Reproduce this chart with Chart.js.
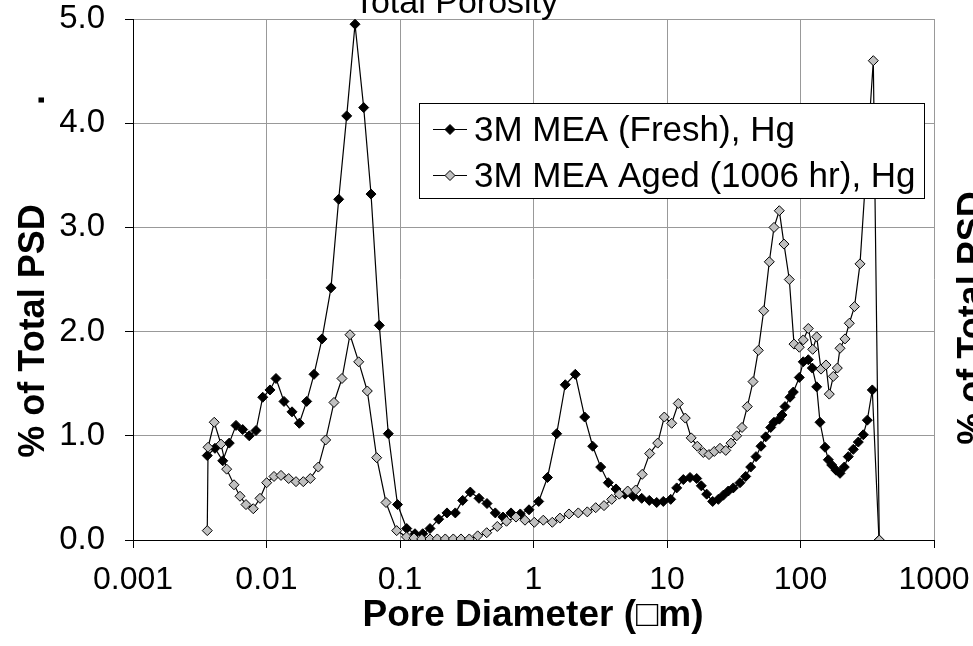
<!DOCTYPE html>
<html><head><meta charset="utf-8">
<script src="https://cdn.jsdelivr.net/npm/chart.js@4"></script>
<style>html,body{margin:0;padding:0;background:#fff;overflow:hidden}canvas{display:block}</style>
</head><body>
<canvas id="c" width="973" height="646"></canvas>
<script>
const chartTitle = 'Total Porosity';
const xTitle = 'Pore Diameter (\u25A1m)';
const yTitle = '% of Total PSD';
const seriesNames = ['3M MEA (Fresh), Hg', '3M MEA Aged (1006 hr), Hg'];
const xTickValues = [0.001, 0.01, 0.1, 1, 10, 100, 1000];
const xTickLabels = ['0.001', '0.01', '0.1', '1', '10', '100', '1000'];
const yTickValues = [0, 1, 2, 3, 4, 5];
const yTickLabels = ['0.0', '1.0', '2.0', '3.0', '4.0', '5.0'];

const freshDiameter = [0.00360,0.00411,0.00470,0.00526,0.00591,0.00663,0.00743,0.00834,0.00937,0.01062,0.01178,0.01352,0.01553,0.01761,0.0200,0.02269,0.02605,0.03041,0.03474,0.03989,0.04603,0.05346,0.06065,0.0700,0.08175,0.0958,0.1123,0.1295,0.1479,0.1678,0.1949,0.2249,0.2596,0.2948,0.3362,0.3907,0.4484,0.5175,0.5908,0.6785,0.7963,0.9254,1.094,1.273,1.492,1.730,2.056,2.418,2.776,3.187,3.634,4.150,4.847,5.593,6.464,7.369,8.372,9.382,10.66,11.82,13.25,14.87,16.69,18.07,19.83,21.99,24.23,26.41,28.79,31.38,35.23,38.86,42.36,46.42,50.59,54.88,59.82,63.32,69.37,72.66,76.53,83.43,88.34,97.95,104.9,114.4,122.6,132.2,140.0,152.6,161.6,171.3,184.5,197.7,212.8,228.0,248.6,271.0,295.4,316.5,345.0,387.3];
const freshPct = [0.81,0.88,0.76,0.93,1.10,1.06,1.00,1.05,1.37,1.44,1.55,1.33,1.23,1.12,1.33,1.59,1.93,2.42,3.27,4.07,4.95,4.15,3.32,2.06,1.02,0.34,0.11,0.06,0.06,0.11,0.20,0.26,0.26,0.38,0.46,0.40,0.35,0.26,0.22,0.26,0.25,0.29,0.37,0.60,1.02,1.49,1.59,1.18,0.90,0.70,0.55,0.49,0.44,0.42,0.40,0.38,0.36,0.37,0.39,0.50,0.58,0.60,0.59,0.52,0.44,0.37,0.39,0.43,0.47,0.50,0.55,0.61,0.70,0.80,0.90,0.99,1.08,1.13,1.16,1.20,1.28,1.37,1.42,1.56,1.71,1.73,1.65,1.47,1.13,0.89,0.77,0.72,0.67,0.64,0.70,0.80,0.87,0.94,1.01,1.15,1.44,0.00];

const agedDiameter = [0.00360,0.00365,0.00406,0.00456,0.00503,0.00571,0.00633,0.00702,0.00796,0.00894,0.01003,0.01138,0.01284,0.01466,0.01663,0.01886,0.02129,0.02443,0.02775,0.03202,0.03676,0.04221,0.04904,0.05689,0.06691,0.07855,0.09447,0.1118,0.1273,0.1454,0.1678,0.1903,0.2184,0.2508,0.2863,0.3304,0.3819,0.4461,0.5355,0.6278,0.7395,0.8636,1.014,1.184,1.383,1.579,1.845,2.166,2.529,2.923,3.374,3.853,4.392,5.077,5.829,6.52,7.42,8.52,9.545,10.84,12.15,13.71,15.18,16.87,18.71,20.64,22.61,24.95,27.56,30.16,33.27,36.46,39.95,44.09,48.30,53.01,58.39,63.32,69.37,75.22,82.44,89.40,97.95,104.9,114.4,123.4,132.2,142.4,155.2,164.3,176.1,188.7,197.7,215.4,232.1,253.8,279.1,351.0,389.3];
const agedPct = [0.09,0.89,1.13,0.92,0.68,0.53,0.42,0.34,0.30,0.40,0.55,0.61,0.62,0.59,0.56,0.56,0.59,0.70,0.96,1.32,1.55,1.97,1.71,1.43,0.79,0.36,0.09,0.03,0.02,0.01,0.01,0.01,0.01,0.01,0.01,0.01,0.04,0.07,0.13,0.18,0.22,0.19,0.17,0.19,0.17,0.21,0.25,0.26,0.27,0.31,0.33,0.39,0.44,0.47,0.48,0.63,0.83,0.93,1.18,1.12,1.31,1.17,0.98,0.90,0.84,0.82,0.85,0.88,0.86,0.93,1.00,1.08,1.28,1.52,1.82,2.20,2.67,3.00,3.16,2.84,2.50,1.88,1.85,1.92,2.03,1.83,1.95,1.64,1.68,1.40,1.57,1.65,1.84,1.93,2.08,2.24,2.65,4.60,0.00];

const FONT = '"Liberation Sans", Arial, Helvetica, sans-serif';
const seriesFill = ['#000000', '#c0c0c0'];

function diamond(ctx, x, y, r, fill) {
  ctx.beginPath();
  ctx.moveTo(x - r, y); ctx.lineTo(x, y - r); ctx.lineTo(x + r, y); ctx.lineTo(x, y + r);
  ctx.closePath();
  ctx.fillStyle = fill; ctx.fill();
  ctx.strokeStyle = '#000'; ctx.lineWidth = 1; ctx.stroke();
}
function rotatedText(ctx, text, x, y, font) {
  ctx.save();
  ctx.translate(x, y); ctx.rotate(-Math.PI / 2);
  ctx.font = font; ctx.textAlign = 'center'; ctx.textBaseline = 'alphabetic';
  ctx.fillStyle = '#000';
  ctx.fillText(text, 0, 0);
  ctx.restore();
}

const overlay = {
  id: 'overlay',
  afterDraw(chart) {
    const ctx = chart.ctx;
    ctx.save();
    ctx.fillStyle = '#000';
    ctx.font = '34px ' + FONT; ctx.textAlign = 'center'; ctx.textBaseline = 'alphabetic';
    ctx.fillText(chartTitle, 456, 13);
    rotatedText(ctx, yTitle, 44, 331, 'bold 36px ' + FONT);
    rotatedText(ctx, '.', 44, 100, 'bold 36px ' + FONT);
    rotatedText(ctx, yTitle, 983, 318, 'bold 36px ' + FONT);
    ctx.font = 'bold 37px ' + FONT; ctx.textAlign = 'center'; ctx.textBaseline = 'alphabetic';
    ctx.fillStyle = '#000';
    ctx.fillText(xTitle, 533, 626);
    // legend
    ctx.fillStyle = '#fff';
    ctx.fillRect(419.5, 103.5, 505, 95);
    ctx.strokeStyle = '#000'; ctx.lineWidth = 1;
    ctx.strokeRect(419.5, 103.5, 505, 95);
    const rowsY = [129, 175], baseY = [141, 187];
    for (let i = 0; i < 2; i++) {
      ctx.beginPath(); ctx.moveTo(433, rowsY[i] + 0.5); ctx.lineTo(467, rowsY[i] + 0.5);
      ctx.strokeStyle = '#000'; ctx.lineWidth = 1; ctx.stroke();
      diamond(ctx, 450, rowsY[i] + 0.5, 5, seriesFill[i]);
      ctx.fillStyle = '#000'; ctx.font = '35px ' + FONT; ctx.textAlign = 'left'; ctx.textBaseline = 'alphabetic';
      ctx.fillText(seriesNames[i], 474, baseY[i]);
    }
    ctx.restore();
  }
};

const mk = (xs, ys) => xs.map((d, i) => ({ x: d, y: ys[i] }));

new Chart(document.getElementById('c'), {
  type: 'scatter',
  data: {
    datasets: [
      { label: seriesNames[0], data: mk(freshDiameter, freshPct), showLine: true, borderColor: '#000', borderWidth: 1.2,
        pointStyle: 'rectRot', pointRadius: 5, pointBackgroundColor: seriesFill[0], pointBorderColor: '#000', pointBorderWidth: 1, order: 1 },
      { label: seriesNames[1], data: mk(agedDiameter, agedPct), showLine: true, borderColor: '#000', borderWidth: 1.2,
        pointStyle: 'rectRot', pointRadius: 5, pointBackgroundColor: seriesFill[1], pointBorderColor: '#000', pointBorderWidth: 1, order: 0 }
    ]
  },
  options: {
    responsive: false, animation: false, devicePixelRatio: 1,
    layout: { padding: { top: 19, right: 39, left: 0, bottom: 0 } },
    plugins: { legend: { display: false }, tooltip: { enabled: false } },
    scales: {
      x: {
        type: 'logarithmic', min: 0.001, max: 1000,
        afterBuildTicks: s => { s.ticks = xTickValues.map(v => ({ value: v })); },
        afterFit: s => { s.height = 106; s.paddingLeft = 0; s.paddingRight = 0; },
        ticks: { callback: (v, i) => xTickLabels[i], autoSkip: false, maxRotation: 0, minRotation: 0,
                 font: { family: FONT, size: 32 }, color: '#000', padding: 13 },
        grid: { color: '#999999', tickColor: '#000', tickLength: 8, lineWidth: 1 },
        border: { color: '#000', width: 1 }
      },
      y: {
        min: 0, max: 5,
        afterBuildTicks: s => { s.ticks = yTickValues.map(v => ({ value: v })); },
        afterFit: s => { s.width = 133; s.paddingTop = 0; s.paddingBottom = 0; },
        ticks: { callback: (v, i) => yTickLabels[i], font: { family: FONT, size: 33, lineHeight: 1 }, color: '#000', padding: 20 },
        grid: { color: '#999999', tickColor: '#000', tickLength: 8, lineWidth: 1 },
        border: { color: '#000', width: 1 }
      }
    }
  },
  plugins: [overlay]
});
</script>
</body></html>
